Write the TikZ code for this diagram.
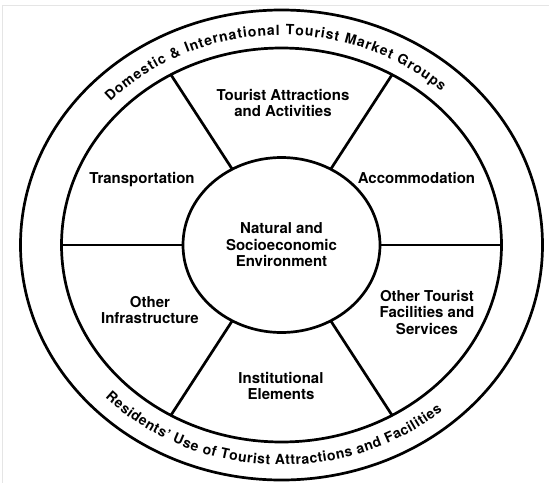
\documentclass[tikz,border=0pt]{standalone}
\usepackage{fontspec}
\setmainfont{TeX Gyre Heros}
\usepackage{tikz}
\usetikzlibrary{shapes.geometric, decorations.text, positioning}

\newcommand{\labelfont}{\fontsize{15}{16.5}\selectfont\bfseries}
\newcommand{\bandfont}{\fontsize{14}{16}\selectfont\bfseries}

\tikzstyle{ring} = [ellipse, draw=black, line width=2.7pt, outer sep=0pt, inner sep=0pt]
\tikzstyle{sector} = [align=center, inner sep=0pt, font=\labelfont]
\tikzstyle{spoke} = [line width=2.7pt]
\tikzstyle{frame} = [gray!20, line width=1pt]

\begin{document}
\begin{tikzpicture}[x=1pt, y=1pt]
    \useasboundingbox (-281.5,-238) rectangle (267.5,245);
    % thin page frame, top and left only
    \draw [frame] (267.5,240) -- (-278.5,240) -- (-278.5,-238);

    % --- Rings ---
    \node (outer) [ring, minimum width=522pt, minimum height=470pt] at (0,0) {};
    \node (inner) [ring, minimum width=440pt, minimum height=394pt] at (0,0) {};
    \node (env) [ring, sector, minimum width=197pt, minimum height=175pt] at (0,0) {Natural and\\Socioeconomic\\Environment};

    % --- Spokes between the core and the inner ring ---
    \draw [spoke] (env.0) -- (inner.0);
    \draw [spoke] (env.57) -- (inner.57);
    \draw [spoke] (env.123) -- (inner.123);
    \draw [spoke] (env.180) -- (inner.180);
    \draw [spoke] (env.237) -- (inner.237);
    \draw [spoke] (env.303) -- (inner.303);

    % --- Sectors ---
    \node (attract) [sector] at (1.5,142) {Tourist Attractions\\and Activities};
    \node (accom) [sector] at (135,67) {Accommodation};
    \node (facil) [sector] at (145.5,-67) {Other Tourist\\Facilities and\\Services};
    \node (inst) [sector] at (-0.5,-141) {Institutional\\Elements};
    \node (infra) [sector] at (-131.5,-65) {Other\\Infrastructure};
    \node (transport) [sector] at (-139.5,65) {Transportation};

    % --- Text in the outer band ---
    \path [decorate, decoration={text along path, text align={fit to path},
        text={|\bandfont|Domestic {\&} International Tourist Market Groups}}]
        (137:234 and 210) arc [start angle=137, end angle=47, x radius=234, y radius=210];
    \path [decorate, decoration={text along path, text align={fit to path},
        text={|\bandfont|Residents' Use of Tourist Attractions and Facilities}}]
        (224:245 and 220) arc [start angle=224, end angle=311, x radius=245, y radius=220];

\end{tikzpicture}
\end{document}
